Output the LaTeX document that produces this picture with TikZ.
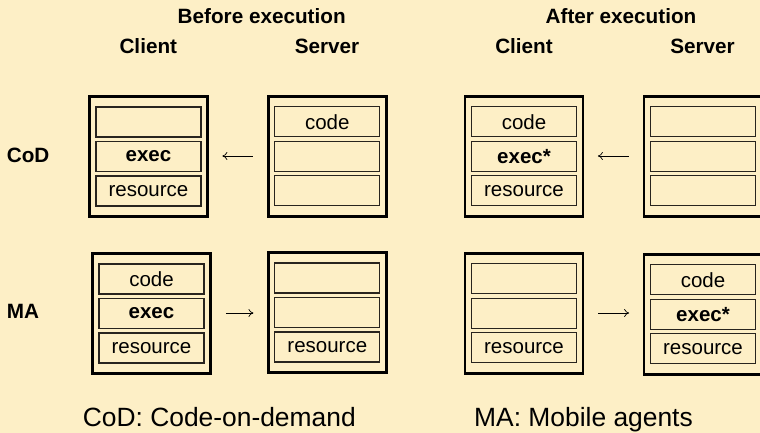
\documentclass[tikz,border=0pt]{standalone}
\usepackage{fontspec}
\setmainfont{Liberation Sans}
\usetikzlibrary{arrows.meta}
\definecolor{bg}{RGB}{253,239,198}
\definecolor{inner}{RGB}{40,36,30}
\tikzset{
  hostbox/.style={draw=black, line width=2.7pt, minimum width=118pt, minimum height=120pt, inner sep=0pt},
  slotbox/.style={draw=inner, line width=1.3pt, minimum width=105pt, minimum height=30pt, inner sep=0pt, font=\fontsize{20.5}{22}\selectfont},
  hdr/.style={font=\bfseries\fontsize{20.7}{22}\selectfont, anchor=base},
  captxt/.style={font=\fontsize{26.4}{28}\selectfont, anchor=base},
  mig/.style={line width=0.7pt, -{Computer Modern Rightarrow[length=5pt,width=8pt]}, shorten <=14pt, shorten >=13.5pt}
}
\newcommand{\hostmachine}[6]{%
  \node[hostbox] (#1) at (#2,#3) {};
  \node[slotbox] (#1a) at (#2,#3-34.5) {#4};
  \node[slotbox] (#1b) at (#2,#3) {#5};
  \node[slotbox] (#1c) at (#2,#3+34.5) {#6};
}
\begin{document}
\begin{tikzpicture}[x=1pt,y=-1pt]
\fill[bg] (0,0) rectangle (760,433);
\useasboundingbox (0,0) rectangle (760,433);
% headings
\node[hdr] (tb) at (261.7,23.3) {Before execution};
\node[hdr] (ta) at (621,23.3) {After execution};
\node[hdr] (hc1) at (148.3,53.3) {Client};
\node[hdr] (hs1) at (327,53.3) {Server};
\node[hdr] (hc2) at (524,53.3) {Client};
\node[hdr] (hs2) at (702.5,53.3) {Server};
\node[hdr, anchor=base west, inner sep=0pt] (lcod) at (6.7,162.3) {CoD};
\node[hdr, anchor=base west, inner sep=0pt] (lma) at (6.7,318.3) {MA};
% CoD row
\hostmachine{cb}{148.5}{156.5}{}{\textbf{exec}}{resource}
\hostmachine{sb}{327.3}{156.3}{code}{}{}
\hostmachine{ca}{524}{156.2}{code}{\textbf{exec*}}{resource}
\hostmachine{sa}{703}{156.3}{}{}{}
% MA row
\hostmachine{cm}{151.5}{313.5}{code}{\textbf{exec}}{resource}
\hostmachine{sm}{327.3}{312.5}{}{}{resource}
\hostmachine{cn}{524}{313.3}{}{}{resource}
\hostmachine{sn}{703}{314.2}{code}{\textbf{exec*}}{resource}
% arrows
\draw[mig] (sb.west |- 0,156) -- (cb.east |- 0,156);
\draw[mig] (sa.west |- 0,156) -- (ca.east |- 0,156);
\draw[mig] (cm.east |- 0,313) -- (sm.west |- 0,313);
\draw[mig] (cn.east |- 0,313) -- (sn.west |- 0,313);
% captions
\node[captxt] (c1) at (219.3,426.7) {CoD: Code-on-demand};
\node[captxt] (c2) at (583.5,426.7) {MA: Mobile agents};
\end{tikzpicture}
\end{document}
